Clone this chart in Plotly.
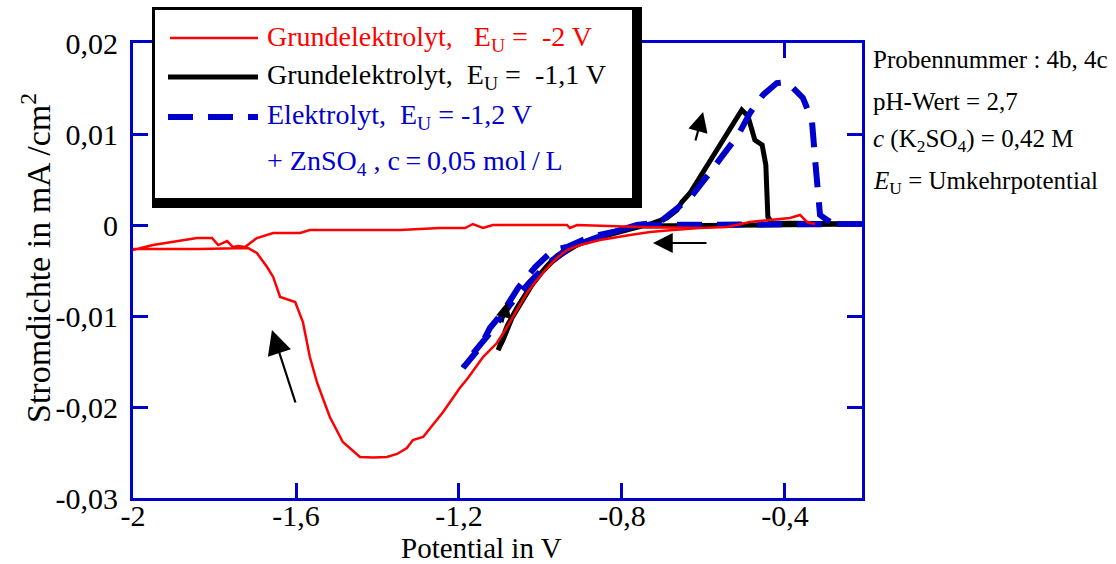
import plotly.graph_objects as go

# ---------------- data (Potential in V, Stromdichte in mA/cm2) ----------------
red_potential = [-0.542, -0.609, -0.675, -0.731, -0.780, -0.822, -0.854, -0.903, -0.935, -0.960,
                 -0.984, -1.009, -1.033, -1.058, -1.082, -1.107, -1.141, -1.178, -1.198, -1.239,
                 -1.288, -1.313, -1.328, -1.352, -1.377, -1.410, -1.443, -1.485, -1.517, -1.548,
                 -1.566, -1.583, -1.602, -1.639, -1.656, -1.671, -1.696, -1.718, -1.836, -2.000,
                 -2.000, -1.951, -1.917, -1.885, -1.843, -1.806, -1.791, -1.769, -1.755, -1.742,
                 -1.725, -1.696, -1.656, -1.590, -1.566, -1.345, -1.247, -1.185, -1.166, -1.141,
                 -1.117, -0.935, -0.928, -0.910, -0.756, -0.609, -0.542, -0.486, -0.412, -0.388,
                 -0.363, -0.346, -0.326]
red_current = [-0.00022, -0.00033, -0.00055, -0.00077, -0.00110, -0.00143, -0.00165, -0.00220, -0.00275, -0.00363,
               -0.00473, -0.00604, -0.00747, -0.00934, -0.01121, -0.01297, -0.01451, -0.01681, -0.01791, -0.02055,
               -0.02330, -0.02363, -0.02451, -0.02516, -0.02549, -0.02555, -0.02549, -0.02385, -0.02110, -0.01736,
               -0.01451, -0.01066, -0.00846, -0.00791, -0.00571, -0.00462, -0.00308, -0.00253, -0.00264, -0.00264,
               -0.00275, -0.00220, -0.00198, -0.00176, -0.00143, -0.00143, -0.00220, -0.00176, -0.00242, -0.00231,
               -0.00242, -0.00143, -0.00088, -0.00088, -0.00055, -0.00055, -0.00033, -0.00033, 0.00011, -0.00033,
               0.0, 0.0, -0.00033, 0.0, -0.00022, -0.00033, -0.00022, 0.00033, 0.00066, 0.00077,
               0.00110, 0.00033, 0.00011]

black_potential = [-0.211, -0.609, -0.756, -0.805, -0.854, -0.903, -0.935, -0.960, -0.984, -1.009,
                   -1.033, -1.058, -1.082, -1.104, -1.092, -1.070, -1.045, -1.021, -0.996, -0.972,
                   -0.947, -0.915, -0.879, -0.829, -0.780, -0.731, -0.707, -0.690, -0.665, -0.653,
                   -0.633, -0.609, -0.591, -0.567, -0.542, -0.523, -0.506, -0.491, -0.474, -0.456,
                   -0.447, -0.442, -0.432, -0.211]
black_current = [0.00011, 0.0, -0.00011, -0.00055, -0.00121, -0.00198, -0.00264, -0.00341, -0.00451, -0.00582,
                 -0.00736, -0.00912, -0.01110, -0.01374, -0.01264, -0.01022, -0.00824, -0.00659, -0.00516, -0.00407,
                 -0.00319, -0.00231, -0.00165, -0.00099, -0.00044, 0.00011, 0.00055, 0.00077, 0.00165, 0.00253,
                 0.00352, 0.00527, 0.00659, 0.00824, 0.01022, 0.01154, 0.01264, 0.01198, 0.00934, 0.00879,
                 0.00659, 0.00088, 0.00022, 0.00011]

blue_potential = [-0.211, -0.609, -0.756, -0.788, -0.822, -0.879, -0.903, -0.935, -0.969, -1.013,
                  -1.055, -1.094, -1.124, -1.148, -1.190, -1.173, -1.124, -1.075, -1.026, -0.977,
                  -0.928, -0.866, -0.805, -0.763, -0.707, -0.677, -0.633, -0.589, -0.552, -0.515,
                  -0.486, -0.454, -0.420, -0.395, -0.356, -0.334, -0.326, -0.322, -0.314, -0.297,
                  -0.277, -0.211]
blue_current = [0.00011, 0.00011, 0.0, -0.00033, -0.00077, -0.00132, -0.00187, -0.00242, -0.00275, -0.00462,
                -0.00692, -0.00967, -0.01132, -0.01341, -0.01571, -0.01451, -0.01187, -0.00879, -0.00626, -0.00407,
                -0.00253, -0.00143, -0.00055, 0.0, 0.00033, 0.00132, 0.00297, 0.00549, 0.00769, 0.00989,
                0.01231, 0.01429, 0.01560, 0.01571, 0.01396, 0.01154, 0.00714, 0.00495, 0.00110, 0.00055,
                0.00011, 0.00011]

x_tick_values = [-2, -1.6, -1.2, -0.8, -0.4]
x_tick_labels = ["-2", "-1,6", "-1,2", "-0,8", "-0,4"]
y_tick_values = [-0.03, -0.02, -0.01, 0, 0.01, 0.02]
y_tick_labels = ["-0,03", "-0,02", "-0,01", "0", "0,01", "0,02"]

x_title = "Potential in V"
y_title = "Stromdichte in mA /cm<sup>2</sup>"

legend_labels = [
    "Grundelektrolyt,\u00a0\u00a0 E<sub>U</sub>\u00a0=\u00a0 -2 V",
    "Grundelektrolyt,\u00a0 E<sub>U</sub>\u00a0=\u00a0 -1,1 V",
    "Elektrolyt,\u00a0 E<sub>U</sub>\u00a0= -1,2 V",
    "+ ZnSO<sub>4</sub> , c\u2009=\u20090,05 mol\u2009/\u2009L",
]
info_lines = [
    "Probennummer : 4b, 4c",
    "pH-Wert = 2,7",
    "<i>c</i> (K<sub>2</sub>SO<sub>4</sub>) = 0,42 M",
    "<i>E</i><sub>U</sub> = Umkehrpotential",
]

# ---------------- styling ----------------
FONT = "Liberation Serif"
RED = "#FF0000"
BLACK = "#000000"
BLUE = "#0000CC"
DASH = "25px,15px"

W, H = 1116, 564
L, R, T, B = 133, 862, 43, 498


def px(xp):
    return (xp - L) / (R - L)


def py(yp):
    return (B - yp) / (B - T)


fig = go.Figure()
fig.add_trace(go.Scatter(x=black_potential, y=black_current, mode="lines",
                         line=dict(color=BLACK, width=5), showlegend=False, hoverinfo="skip"))
fig.add_trace(go.Scatter(x=blue_potential, y=blue_current, mode="lines",
                         line=dict(color=BLUE, width=6, dash=DASH), showlegend=False, hoverinfo="skip"))
fig.add_trace(go.Scatter(x=red_potential, y=red_current, mode="lines",
                         line=dict(color=RED, width=2.5), showlegend=False, hoverinfo="skip"))

shapes = []
# legend box with drop shadow
shapes.append(dict(type="rect", xref="paper", yref="paper", x0=px(152), x1=px(642), y0=py(208), y1=py(7),
                   fillcolor=BLACK, line=dict(width=0), layer="above"))
shapes.append(dict(type="rect", xref="paper", yref="paper", x0=px(155), x1=px(632), y0=py(198), y1=py(10),
                   fillcolor="white", line=dict(width=0), layer="above"))
# legend line samples
shapes.append(dict(type="line", xref="paper", yref="paper", x0=px(170), x1=px(258), y0=py(38), y1=py(38),
                   line=dict(color=RED, width=2.5), layer="above"))
shapes.append(dict(type="line", xref="paper", yref="paper", x0=px(168), x1=px(258), y0=py(77), y1=py(77),
                   line=dict(color=BLACK, width=5), layer="above"))
shapes.append(dict(type="line", xref="paper", yref="paper", x0=px(168), x1=px(258), y0=py(117), y1=py(117),
                   line=dict(color=BLUE, width=6, dash=DASH), layer="above"))

annotations = []
legend_colors = [RED, BLACK, BLUE, BLUE]
legend_rows = [38, 77, 117, 162]
for txt, col, row in zip(legend_labels, legend_colors, legend_rows):
    annotations.append(dict(xref="paper", yref="paper", x=px(265), y=py(row), text=txt, showarrow=False,
                            xanchor="left", yanchor="middle", font=dict(family=FONT, size=28, color=col)))

info_rows = [60, 101, 140, 182]
for txt, row in zip(info_lines, info_rows):
    annotations.append(dict(xref="paper", yref="paper", x=px(871), y=py(row), text=txt, showarrow=False,
                            xanchor="left", yanchor="middle", font=dict(family=FONT, size=25, color=BLACK)))

# axis titles
annotations.append(dict(xref="paper", yref="paper", x=px(481), y=py(548), text=x_title, showarrow=False,
                        xanchor="center", yanchor="middle", font=dict(family=FONT, size=29, color=BLACK)))
annotations.append(dict(xref="paper", yref="paper", x=px(36), y=py(258), text=y_title, showarrow=False,
                        textangle=-90, xanchor="center", yanchor="middle",
                        font=dict(family=FONT, size=34, color=BLACK)))

# arrows (head position in data units, tail offset in pixels)
arrows = [
    (-1.659, -0.01154, 24, 74, 2.2),
    (-0.601, 0.01242, -8, 30, 1.8),
    (-0.724, -0.00198, 55, 0, 1.8),
    (-1.082, -0.00846, -5, 22, 1.4),
]
for ax_x, ax_y, dx, dy, size in arrows:
    annotations.append(dict(xref="x", yref="y", x=ax_x, y=ax_y, ax=dx, ay=dy, text="", showarrow=True,
                            arrowhead=2, arrowsize=size, arrowwidth=2.2, arrowcolor=BLACK, standoff=0))

axis_common = dict(showline=True, linecolor=BLUE, linewidth=3, mirror="ticks", ticks="inside",
                   ticklen=15, tickwidth=3, tickcolor=BLUE, showgrid=False, zeroline=False,
                   automargin=False, tickfont=dict(family=FONT, size=30, color=BLACK))

fig.update_layout(
    width=W, height=H,
    margin=dict(l=L, r=W - R, t=T, b=H - B, pad=0),
    paper_bgcolor="white", plot_bgcolor="white",
    font=dict(family=FONT),
    xaxis=dict(range=[-2, -0.211], tickvals=x_tick_values, ticktext=x_tick_labels,
               ticklabelstandoff=-11, **axis_common),
    yaxis=dict(range=[-0.03, 0.02], tickvals=y_tick_values, ticktext=y_tick_labels,
               ticklabelstandoff=6, **axis_common),
    shapes=shapes,
    annotations=annotations,
    showlegend=False,
    hovermode=False,
)

fig.write_html("out.html")
